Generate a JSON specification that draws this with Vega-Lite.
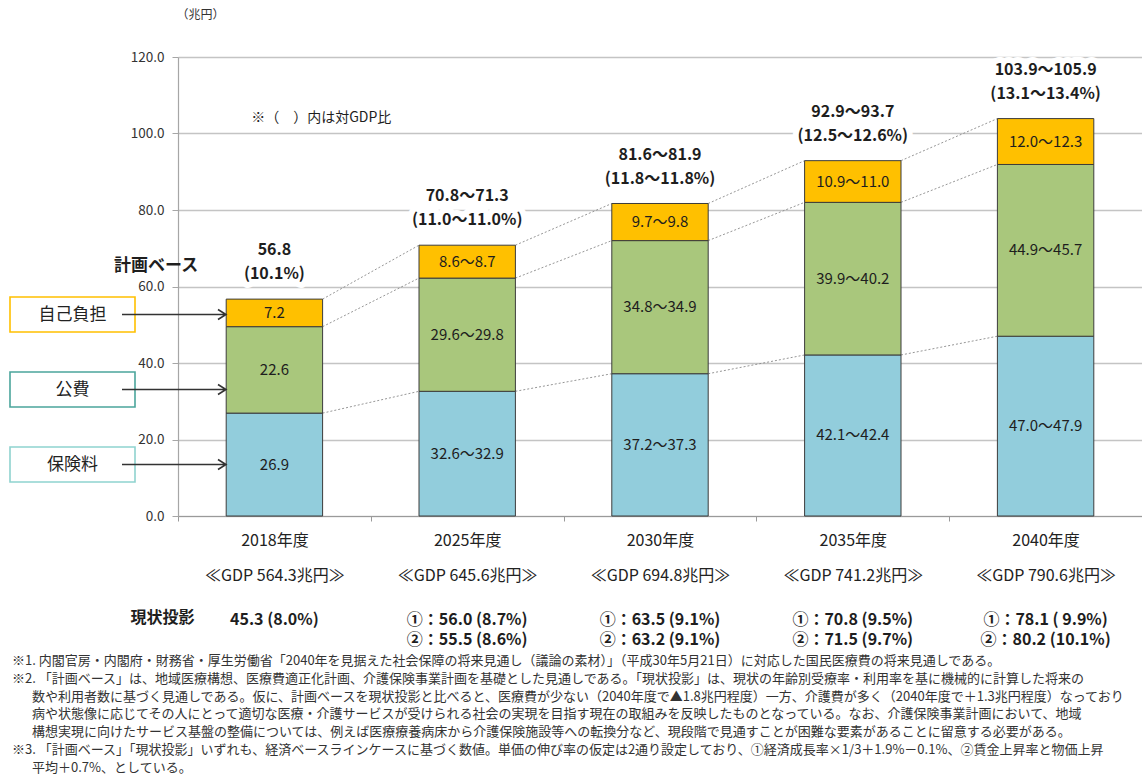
{
  "$schema": "https://vega.github.io/schema/vega-lite/v6.json",
  "autosize": {"type": "none"},
  "width": 964,
  "height": 459,
  "padding": {"left": 178, "top": 57, "right": 0, "bottom": 260},
  "background": "white",
  "config": {
    "font": "Noto Sans CJK JP",
    "view": {"stroke": null}
  },
  "title": {
    "text": [
      "※1. 内閣官房・内閣府・財務省・厚生労働省「2040年を見据えた社会保障の将来見通し（議論の素材）」（平成30年5月21日）に対応した国民医療費の将来見通しである。",
      "※2. 「計画ベース」は、地域医療構想、医療費適正化計画、介護保険事業計画を基礎とした見通しである。「現状投影」は、現状の年齢別受療率・利用率を基に機械的に計算した将来の",
      "\u2800\u2800数や利用者数に基づく見通しである。仮に、計画ベースを現状投影と比べると、医療費が少ない（2040年度で▲1.8兆円程度）一方、介護費が多く（2040年度で＋1.3兆円程度）なっており",
      "\u2800\u2800病や状態像に応じてその人にとって適切な医療・介護サービスが受けられる社会の実現を目指す現在の取組みを反映したものとなっている。なお、介護保険事業計画において、地域",
      "\u2800\u2800構想実現に向けたサービス基盤の整備については、例えば医療療養病床から介護保険施設等への転換分など、現段階で見通すことが困難な要素があることに留意する必要がある。",
      "※3. 「計画ベース」「現状投影」いずれも、経済ベースラインケースに基づく数値。単価の伸び率の仮定は2通り設定しており、①経済成長率×1/3＋1.9%－0.1%、②賃金上昇率と物価上昇",
      "\u2800\u2800平均＋0.7%、としている。"
    ],
    "orient": "bottom",
    "anchor": "start",
    "frame": "group",
    "dx": -166,
    "offset": 8,
    "fontSize": 13,
    "fontWeight": "normal",
    "lineHeight": 17.8,
    "color": "#333333"
  },
  "datasets": {
    "bars": [
      {"year": "2018年度", "component": "保険料", "lo": 26.9, "hi": 26.9, "label": "26.9"},
      {"year": "2018年度", "component": "公費", "lo": 22.6, "hi": 22.6, "label": "22.6"},
      {"year": "2018年度", "component": "自己負担", "lo": 7.2, "hi": 7.2, "label": "7.2"},
      {"year": "2025年度", "component": "保険料", "lo": 32.6, "hi": 32.9, "label": "32.6～32.9"},
      {"year": "2025年度", "component": "公費", "lo": 29.6, "hi": 29.8, "label": "29.6～29.8"},
      {"year": "2025年度", "component": "自己負担", "lo": 8.6, "hi": 8.7, "label": "8.6～8.7"},
      {"year": "2030年度", "component": "保険料", "lo": 37.2, "hi": 37.3, "label": "37.2～37.3"},
      {"year": "2030年度", "component": "公費", "lo": 34.8, "hi": 34.9, "label": "34.8～34.9"},
      {"year": "2030年度", "component": "自己負担", "lo": 9.7, "hi": 9.8, "label": "9.7～9.8"},
      {"year": "2035年度", "component": "保険料", "lo": 42.1, "hi": 42.4, "label": "42.1～42.4"},
      {"year": "2035年度", "component": "公費", "lo": 39.9, "hi": 40.2, "label": "39.9～40.2"},
      {"year": "2035年度", "component": "自己負担", "lo": 10.9, "hi": 11.0, "label": "10.9～11.0"},
      {"year": "2040年度", "component": "保険料", "lo": 47.0, "hi": 47.9, "label": "47.0～47.9"},
      {"year": "2040年度", "component": "公費", "lo": 44.9, "hi": 45.7, "label": "44.9～45.7"},
      {"year": "2040年度", "component": "自己負担", "lo": 12.0, "hi": 12.3, "label": "12.0～12.3"}
    ],
    "years": [
      {"year": "2018年度", "gdp": "≪GDP 564.3兆円≫", "totalLo": 56.8, "totalHi": 56.8, "totalText": "56.8\n(10.1%)", "proj1": "45.3 (8.0%)", "proj2": ""},
      {"year": "2025年度", "gdp": "≪GDP 645.6兆円≫", "totalLo": 70.8, "totalHi": 71.3, "totalText": "70.8～71.3\n(11.0～11.0%)", "proj1": "①：56.0 (8.7%)", "proj2": "②：55.5 (8.6%)"},
      {"year": "2030年度", "gdp": "≪GDP 694.8兆円≫", "totalLo": 81.6, "totalHi": 81.9, "totalText": "81.6～81.9\n(11.8～11.8%)", "proj1": "①：63.5 (9.1%)", "proj2": "②：63.2 (9.1%)"},
      {"year": "2035年度", "gdp": "≪GDP 741.2兆円≫", "totalLo": 92.9, "totalHi": 93.7, "totalText": "92.9～93.7\n(12.5～12.6%)", "proj1": "①：70.8 (9.5%)", "proj2": "②：71.5 (9.7%)"},
      {"year": "2040年度", "gdp": "≪GDP 790.6兆円≫", "totalLo": 103.9, "totalHi": 105.9, "totalText": "103.9～105.9\n(13.1～13.4%)", "proj1": "①：78.1 ( 9.9%)", "proj2": "②：80.2 (10.1%)"}
    ]
  },
  "resolve": {
    "axis": {"x": "independent"},
    "scale": {"stroke": "independent"},
    "legend": {"stroke": "independent"}
  },
  "layer": [
    {
      "data": {"name": "years"},
      "mark": {"type": "text", "fontSize": 16, "fontWeight": "bold", "baseline": "bottom", "dy": -41, "lineHeight": 24, "lineBreak": "\n", "color": "white", "stroke": "white", "strokeWidth": 12, "strokeJoin": "round"},
      "encoding": {
        "x": {
          "field": "year",
          "type": "nominal",
          "axis": {
            "orient": "bottom",
            "title": "現状投影",
            "titleX": -16,
            "titleY": 1,
            "titleAlign": "center",
            "titleBaseline": "middle",
            "titleFontSize": 16,
            "titleFontWeight": "bold",
            "titleColor": "#1e1e1e",
            "labelAngle": 0,
            "labelExpr": "data('years')[indexof(pluck(data('years'), 'year'), datum.value)].proj2 ? [data('years')[indexof(pluck(data('years'), 'year'), datum.value)].proj1, data('years')[indexof(pluck(data('years'), 'year'), datum.value)].proj2] : data('years')[indexof(pluck(data('years'), 'year'), datum.value)].proj1",
            "labelFontSize": 16,
            "labelFontWeight": "bold",
            "labelLineHeight": 20,
            "labelBaseline": "middle",
            "labelColor": "#1e1e1e",
            "labelPadding": 3,
            "offset": 100,
            "domain": false,
            "ticks": false,
            "grid": false
          }
        },
        "y": {"field": "totalLo", "type": "quantitative", "title": "（兆円）"},
        "text": {"field": "totalText", "type": "nominal"}
      }
    },
    {
      "data": {"name": "bars"},
      "transform": [
        {"stack": "lo", "groupby": ["year"], "sort": [{"field": "component", "order": "ascending"}], "as": ["y0", "y1"]},
        {"window": [{"op": "lead", "field": "y1", "as": "nextY1"}, {"op": "lead", "field": "year", "as": "nextYear"}], "groupby": ["component"], "sort": [{"field": "year", "order": "ascending"}]},
        {"filter": "datum.nextYear != null"}
      ],
      "mark": {"type": "rule", "color": "#8a8a8a", "strokeWidth": 0.9, "strokeDash": [2, 2]},
      "encoding": {
        "x": {"field": "year", "type": "nominal", "bandPosition": 1, "axis": null},
        "x2": {"field": "nextYear", "bandPosition": 0},
        "y": {"field": "y1", "type": "quantitative", "title": "（兆円）"},
        "y2": {"field": "nextY1"}
      }
    },
    {
      "data": {"name": "bars"},
      "mark": {"type": "bar", "stroke": "#3c3c3c", "strokeWidth": 1},
      "encoding": {
        "x": {
          "field": "year",
          "type": "nominal",
          "scale": {"paddingInner": 0.5, "paddingOuter": 0.25},
          "axis": {
            "orient": "bottom",
            "title": null,
            "labelAngle": 0,
            "labelExpr": "[datum.value, data('years')[indexof(pluck(data('years'), 'year'), datum.value)].gdp]",
            "labelFontSize": 16,
            "labelLineHeight": 35,
            "labelColor": "#222222",
            "labelPadding": 11,
            "labelBaseline": "top",
            "tickOffset": -96.4,
            "labelOffset": 96.4,
            "tickSize": 5,
            "tickColor": "#9a9a9a",
            "domainColor": "#9a9a9a",
            "domainWidth": 1.2
          }
        },
        "y": {
          "field": "lo",
          "type": "quantitative",
          "stack": "zero",
          "title": "（兆円）",
          "scale": {"domain": [0, 120], "nice": false},
          "axis": {
            "values": [0, 20, 40, 60, 80, 100, 120],
            "format": ".1f",
            "labelFontSize": 13.5,
            "labelColor": "#333333",
            "labelPadding": 8,
            "tickSize": 6,
            "tickColor": "#a6a6a6",
            "domainColor": "#a6a6a6",
            "domainWidth": 1.2,
            "gridColor": "#c4c4c4",
            "gridWidth": 1.4,
            "titleAngle": 0,
            "titleX": 22,
            "titleY": -43,
            "titleAlign": "center",
            "titleBaseline": "middle",
            "titleFontSize": 12,
            "titleFontWeight": "normal",
            "titleColor": "#333333"
          }
        },
        "fill": {
          "field": "component",
          "type": "nominal",
          "scale": {"domain": ["保険料", "公費", "自己負担"], "range": ["#92CDDC", "#A9C77C", "#FFC000"]},
          "legend": null
        },
        "order": {"field": "component", "type": "nominal", "sort": "ascending"}
      }
    },
    {
      "data": {"name": "bars"},
      "transform": [
        {"stack": "lo", "groupby": ["year"], "sort": [{"field": "component", "order": "ascending"}], "as": ["y0", "y1"]},
        {"fold": ["y0", "y1"], "as": ["edge", "edgeValue"]},
        {"aggregate": [{"op": "mean", "field": "edgeValue", "as": "mid"}], "groupby": ["year", "component", "label"]}
      ],
      "mark": {"type": "text", "fontSize": 15, "color": "#1e1e1e", "baseline": "middle"},
      "encoding": {
        "x": {"field": "year", "type": "nominal", "axis": null},
        "y": {"field": "mid", "type": "quantitative", "title": "（兆円）"},
        "text": {"field": "label", "type": "nominal"}
      }
    },
    {
      "data": {"name": "years"},
      "mark": {"type": "text", "fontSize": 16, "fontWeight": "bold", "baseline": "bottom", "dy": -41, "lineHeight": 24, "lineBreak": "\n", "color": "#1e1e1e"},
      "encoding": {
        "x": {"field": "year", "type": "nominal", "axis": null},
        "y": {"field": "totalLo", "type": "quantitative", "title": "（兆円）"},
        "text": {"field": "totalText", "type": "nominal"}
      }
    },
    {
      "data": {"name": "years"},
      "transform": [{"filter": "datum.year === '2018年度'"}],
      "mark": {"type": "text", "text": "計画ベース", "fontSize": 17, "fontWeight": "bold", "align": "right", "baseline": "middle", "dx": -28, "dy": -33, "color": "#1e1e1e"},
      "encoding": {
        "x": {"field": "year", "type": "nominal", "bandPosition": 0, "axis": null},
        "y": {"field": "totalLo", "type": "quantitative", "title": "（兆円）"}
      }
    },
    {
      "data": {"name": "years"},
      "transform": [{"filter": "datum.year === '2018年度'"}],
      "mark": {"type": "text", "text": "※（　）内は対GDP比", "fontSize": 14, "align": "left", "baseline": "middle", "dx": 25, "color": "#1e1e1e"},
      "encoding": {
        "x": {"field": "year", "type": "nominal", "bandPosition": 0, "axis": null},
        "y": {"datum": 104, "type": "quantitative", "title": "（兆円）"}
      }
    },
    {
      "data": {"name": "bars"},
      "mark": {"type": "point", "opacity": 0, "filled": false},
      "encoding": {
        "stroke": {
          "field": "component",
          "type": "nominal",
          "scale": {"domain": ["自己負担", "公費", "保険料"], "range": ["#FFC000", "#4BA59C", "#8FD3CF"]},
          "legend": {
            "orient": "none",
            "legendX": -178,
            "legendY": 203.5,
            "title": null,
            "padding": 0,
            "offset": 0,
            "symbolType": "M0,-0.3302M0,0.3302M-0.8302,-0.3302H1.5283V0.3302H-0.8302Z",
            "symbolSize": 11236,
            "symbolStrokeWidth": 1.6,
            "symbolOpacity": 1,
            "symbolOffset": 0,
            "rowPadding": 0,
            "labelAlign": "center",
            "labelBaseline": "middle",
            "labelOffset": -35.5,
            "labelFontSize": 17,
            "labelColor": "#222222",
            "labelLimit": 0,
            "encode": {
              "symbols": {"shape": {"value": {"expr": "datum.value === '公費' ? 'M0,-0.3302M0,0.3302M-0.8302,-0.6698H1.5283V-0.0094H-0.8302Z' : 'M0,-0.3302M0,0.3302M-0.8302,-0.3302H1.5283V0.3302H-0.8302Z'"}}},
              "labels": {"dy": {"value": {"expr": "datum.value === '公費' ? -18 : 0"}}}
            }
          }
        }
      }
    },
    {
      "data": {"name": "bars"},
      "mark": {"type": "point", "opacity": 0, "filled": false},
      "encoding": {
        "stroke": {
          "field": "component",
          "type": "nominal",
          "scale": {"domain": ["自己負担", "公費", "保険料"], "range": ["#333333", "#333333", "#333333"]},
          "legend": {
            "orient": "none",
            "legendX": -178,
            "legendY": 203.5,
            "title": null,
            "padding": 0,
            "offset": 0,
            "symbolType": "M0,-0.3302M0,0.3302M1.283,0H3.2453M3.0943,-0.0943L3.2453,0L3.0943,0.0943",
            "symbolSize": 11236,
            "symbolStrokeWidth": 1.6,
            "symbolOpacity": 1,
            "symbolOffset": 0,
            "rowPadding": 0,
            "labelOpacity": 0,
            "encode": {
              "symbols": {"shape": {"value": {"expr": "datum.value === '公費' ? 'M0,-0.3302M0,0.3302M1.283,-0.3396H3.2453M3.0943,-0.4339L3.2453,-0.3396L3.0943,-0.2453' : 'M0,-0.3302M0,0.3302M1.283,0H3.2453M3.0943,-0.0943L3.2453,0L3.0943,0.0943'"}}}
            }
          }
        }
      }
    }
  ]
}
